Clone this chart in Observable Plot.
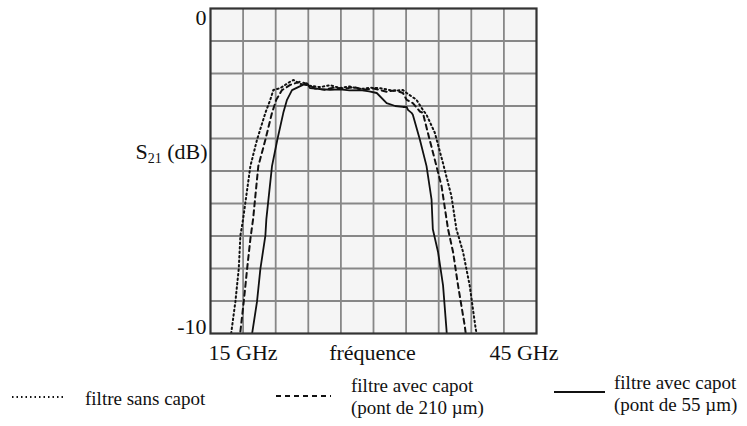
<!DOCTYPE html>
<html><head><meta charset="utf-8">
<script src="https://cdn.jsdelivr.net/npm/d3@7"></script>
<script src="https://cdn.jsdelivr.net/npm/@observablehq/plot@0.6"></script>
<style>
body{margin:0;background:#fff;font-family:"Liberation Serif","Times New Roman",serif;color:#111}
#wrap{position:relative;width:747px;height:426px;overflow:hidden}
#chart{position:absolute;left:0;top:0}
.li{position:absolute;font-size:19px;line-height:22px;white-space:nowrap}
.sw{position:absolute}
</style></head><body>
<div id="wrap"><div id="chart"></div><div id="legend"></div></div>
<script>
// x axis: frequency (GHz), y axis: S21 (dB)
const xTickLabels = ["15 GHz", "fréquence", "45 GHz"];
const yTickLabels = ["0", "-10"];
const xGridValues = [18, 21, 24, 27, 30, 33, 36, 39, 42];
const yGridValues = [-1, -2, -3, -4, -5, -6, -7, -8, -9];

// filtre sans capot
const freqSans = [16.90, 17.29, 17.60, 17.75, 18.00, 18.67, 19.28, 20.05, 20.50, 20.78, 21.42, 22.34, 22.64, 23.26, 24.2, 25.09, 26.0, 26.93, 27.8, 28.76, 29.7, 30.6, 31.79, 32.71, 33.05, 33.96, 34.54, 34.88, 35.64, 36.38, 37.17, 37.63, 38.24, 38.85, 39.40, 39.49];
const dbSans = [-10.0, -9.02, -8.01, -6.99, -6.48, -4.85, -4.04, -3.21, -2.81, -2.51, -2.45, -2.25, -2.20, -2.32, -2.38, -2.42, -2.36, -2.45, -2.40, -2.48, -2.44, -2.45, -2.53, -2.51, -2.60, -2.81, -3.12, -3.27, -3.82, -4.74, -5.77, -6.79, -7.49, -8.52, -9.85, -10.0];
// filtre avec capot (pont de 210 µm)
const freq210 = [17.75, 18.06, 18.37, 18.67, 18.92, 19.40, 20.05, 20.66, 21.05, 21.58, 22.34, 23.26, 23.87, 24.6, 25.5, 26.4, 27.3, 28.2, 29.1, 30.0, 31.21, 32.0, 32.71, 33.05, 33.62, 34.27, 34.54, 35.0, 35.64, 36.26, 36.86, 37.32, 37.78, 38.39, 38.49];
const db210 = [-9.94, -9.02, -8.01, -7.09, -6.48, -4.85, -4.04, -3.21, -2.81, -2.51, -2.35, -2.25, -2.32, -2.46, -2.50, -2.43, -2.47, -2.42, -2.50, -2.46, -2.56, -2.52, -2.60, -2.81, -2.91, -3.17, -3.21, -3.82, -4.65, -5.46, -6.79, -7.49, -8.52, -9.75, -10.0];
// filtre avec capot (pont de 55 µm)
const freq55 = [18.83, 19.28, 19.59, 20.05, 20.14, 20.66, 21.15, 21.70, 22.04, 22.50, 23.26, 23.87, 24.17, 25.1, 26.0, 26.9, 27.8, 28.8, 29.6, 30.3, 31.21, 32.0, 32.71, 33.05, 33.17, 33.50, 33.62, 34.27, 34.88, 35.34, 35.46, 35.94, 36.40, 36.71, 36.74];
const db55 = [-10.0, -9.02, -8.01, -6.99, -6.48, -4.85, -4.04, -3.21, -2.81, -2.51, -2.39, -2.30, -2.45, -2.48, -2.50, -2.49, -2.52, -2.51, -2.55, -2.60, -2.91, -3.00, -3.03, -3.03, -3.12, -3.21, -3.27, -4.04, -4.85, -5.87, -6.79, -7.49, -8.52, -9.85, -10.0];

const seriesNames = ["filtre sans capot", "filtre avec capot\n(pont de 210 µm)", "filtre avec capot\n(pont de 55 µm)"];
const seriesDash = ["1.5,3", "5,4", null];

const toRows = (f, d) => f.map((v, i) => ({f: v, db: d[i]}));
const rowsSans = toRows(freqSans, dbSans);
const rows210 = toRows(freq210, db210);
const rows55 = toRows(freq55, db55);

const chart = Plot.plot({
  width: 747, height: 360,
  marginLeft: 210, marginRight: 211, marginTop: 8, marginBottom: 27,
  x: {domain: [15, 45], axis: null},
  y: {domain: [-10, 0], axis: null},
  style: {fontFamily: "'Liberation Serif', 'Times New Roman', serif", fontSize: "22px", background: "transparent", color: "#111", overflow: "visible"},
  marks: [
    Plot.frame({fill: "#f5f5f5", stroke: null}),
    Plot.gridX(xGridValues, {stroke: "#878787", strokeOpacity: 1, strokeWidth: 1.8}),
    Plot.gridY(yGridValues, {stroke: "#878787", strokeOpacity: 1, strokeWidth: 1.8}),
    Plot.line(rowsSans, {x: "f", y: "db", stroke: "#111", strokeWidth: 2, strokeDasharray: seriesDash[0], clip: true}),
    Plot.line(rows210, {x: "f", y: "db", stroke: "#111", strokeWidth: 2, strokeDasharray: seriesDash[1], clip: true}),
    Plot.line(rows55, {x: "f", y: "db", stroke: "#111", strokeWidth: 1.8, clip: true}),
    Plot.frame({stroke: "#333", strokeWidth: 2.2}),
    Plot.text([yTickLabels[0]], {x: 15, y: 0, text: d => d, textAnchor: "end", dx: -4, dy: 9, fill: "#111"}),
    Plot.text([yTickLabels[1]], {x: 15, y: -10, text: d => d, textAnchor: "end", dx: -4, dy: -7, fill: "#111"}),
    Plot.text(["S21 (dB)"], {x: 15, y: -4.41, text: d => d, textAnchor: "end", dx: -3, fill: "#111"}),
    Plot.text([xTickLabels[0]], {x: 15, y: -10, text: d => d, textAnchor: "start", dx: -2, dy: 19, fill: "#111"}),
    Plot.text([xTickLabels[1]], {x: 30, y: -10, text: d => d, textAnchor: "middle", dx: -1, dy: 19, fill: "#111"}),
    Plot.text([xTickLabels[2]], {x: 45, y: -10, text: d => d, textAnchor: "end", dx: 22, dy: 19, fill: "#111"})
  ]
});
document.getElementById("chart").appendChild(chart);

// subscript for S21
d3.select(chart).selectAll("text").each(function() {
  const t = d3.select(this);
  if (t.text() === "S21 (dB)") {
    t.text("");
    t.append("tspan").text("S");
    t.append("tspan").attr("font-size", "14px").attr("dy", "4").text("21");
    t.append("tspan").attr("dy", "-4").text(" (dB)");
  }
});

// legend
const legendItems = [
  {sx: 12, sw: 52, sy: 397, tx: 85, ty: 388},
  {sx: 276, sw: 55, sy: 396, tx: 351, ty: 375},
  {sx: 554, sw: 51, sy: 392, tx: 614, ty: 372}
];
const legend = document.getElementById("legend");
legendItems.forEach((it, i) => {
  const svg = d3.create("svg").attr("class", "sw").attr("width", it.sw).attr("height", 6)
    .style("left", it.sx + "px").style("top", (it.sy - 3) + "px");
  svg.append("line").attr("x1", 0).attr("x2", it.sw).attr("y1", 3).attr("y2", 3)
    .attr("stroke", "#111").attr("stroke-width", 2)
    .attr("stroke-dasharray", seriesDash[i]);
  legend.appendChild(svg.node());
  const div = document.createElement("div");
  div.className = "li";
  div.style.left = it.tx + "px";
  div.style.top = it.ty + "px";
  div.innerHTML = seriesNames[i].split("\n").join("<br>");
  legend.appendChild(div);
});
</script>
</body></html>
